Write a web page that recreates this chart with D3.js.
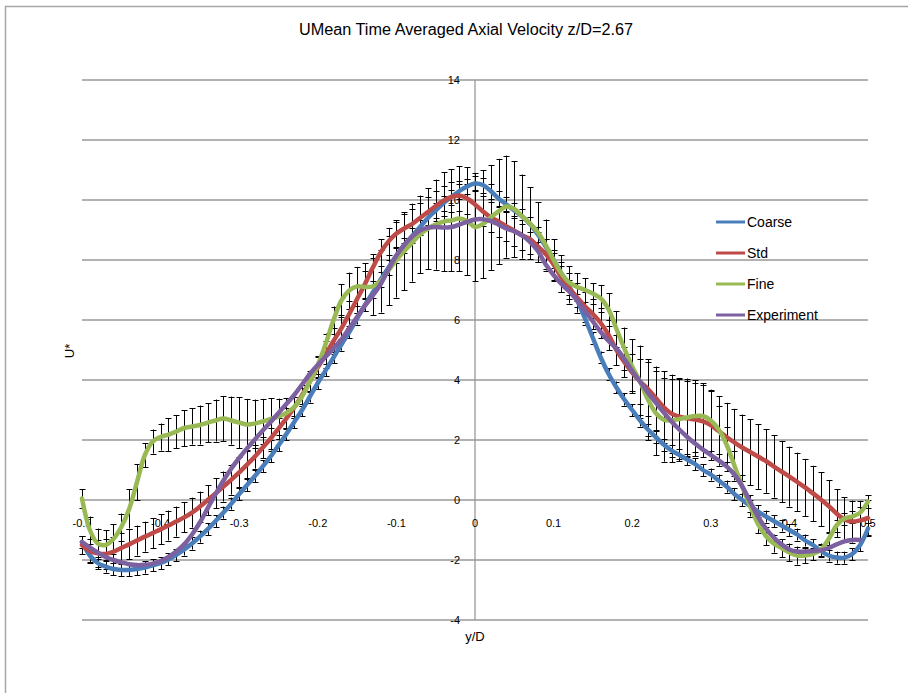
<!DOCTYPE html>
<html><head><meta charset="utf-8">
<script src="https://cdn.jsdelivr.net/npm/d3@7"></script>
<style>body{margin:0;background:#fff;}svg{display:block;font-family:"Liberation Sans",Arial,sans-serif;}</style>
</head><body><svg id="c" width="908" height="693"></svg>
<script>
const title = "UMean Time Averaged Axial Velocity z/D=2.67";
const xLabel = "y/D";
const yLabel = "U*";
const xTicks = [-0.5,-0.4,-0.3,-0.2,-0.1,0,0.1,0.2,0.3,0.4,0.5];
const xTickLabels = ["-0.5","-0.4","-0.3","-0.2","-0.1","0","0.1","0.2","0.3","0.4","0.5"];
const yTicks = [-4,-2,0,2,4,6,8,10,12,14];
const seriesNames = ["Coarse","Std","Fine","Experiment"];
const seriesColors = ["#4a7ebb","#be4b48","#98b954","#7d60a0"];

const yD = [-0.50,-0.49,-0.48,-0.47,-0.46,-0.45,-0.44,-0.43,-0.42,-0.41,
-0.40,-0.39,-0.38,-0.37,-0.36,-0.35,-0.34,-0.33,-0.32,-0.31,
-0.30,-0.29,-0.28,-0.27,-0.26,-0.25,-0.24,-0.23,-0.22,-0.21,
-0.20,-0.19,-0.18,-0.17,-0.16,-0.15,-0.14,-0.13,-0.12,-0.11,
-0.10,-0.09,-0.08,-0.07,-0.06,-0.05,-0.04,-0.03,-0.02,-0.01,
0,0.01,0.02,0.03,0.04,0.05,0.06,0.07,0.08,0.09,
0.10,0.11,0.12,0.13,0.14,0.15,0.16,0.17,0.18,0.19,
0.20,0.21,0.22,0.23,0.24,0.25,0.26,0.27,0.28,0.29,
0.30,0.31,0.32,0.33,0.34,0.35,0.36,0.37,0.38,0.39,
0.40,0.41,0.42,0.43,0.44,0.45,0.46,0.47,0.48,0.49,0.50];

const coarse = [-1.4,-1.85,-2.1,-2.22,-2.3,-2.33,-2.33,-2.3,-2.25,-2.18,
-2.1,-1.98,-1.83,-1.65,-1.45,-1.22,-0.97,-0.7,-0.42,-0.12,
0.2,0.5,0.8,1.12,1.45,1.82,2.2,2.6,3.0,3.45,
3.9,4.32,4.75,5.18,5.6,6.05,6.5,6.92,7.35,7.75,
8.15,8.5,8.8,9.1,9.4,9.65,9.9,10.1,10.3,10.45,
10.55,10.5,10.3,10.05,9.85,9.65,9.45,9.2,8.85,8.45,
8.0,7.55,7.1,6.65,6.05,5.4,4.75,4.2,3.75,3.35,
3.0,2.65,2.35,2.1,1.85,1.65,1.5,1.35,1.2,1.0,
0.85,0.65,0.45,0.2,0.0,-0.2,-0.38,-0.55,-0.7,-0.85,
-1.0,-1.15,-1.35,-1.5,-1.7,-1.85,-1.92,-1.92,-1.8,-1.5,-0.95];

const std = [-1.5,-1.7,-1.78,-1.8,-1.72,-1.6,-1.48,-1.35,-1.22,-1.1,
-0.98,-0.85,-0.72,-0.58,-0.42,-0.22,0.0,0.22,0.45,0.68,
0.92,1.18,1.45,1.75,2.05,2.38,2.72,3.08,3.5,3.95,
4.42,4.85,5.3,5.72,6.2,6.7,7.2,7.75,8.25,8.62,
8.88,9.05,9.2,9.4,9.6,9.8,9.98,10.1,10.15,10.05,
9.85,9.62,9.42,9.28,9.12,8.98,8.82,8.7,8.45,8.2,
7.85,7.42,7.05,6.75,6.45,6.2,5.9,5.5,5.0,4.6,
4.25,3.95,3.7,3.4,3.1,2.88,2.78,2.72,2.68,2.62,
2.5,2.3,2.1,1.92,1.75,1.6,1.45,1.3,1.12,0.95,
0.78,0.6,0.42,0.22,0.02,-0.2,-0.45,-0.65,-0.72,-0.68,-0.6];

const fine = [0.05,-1.0,-1.45,-1.5,-1.3,-0.9,-0.3,0.6,1.5,1.95,
2.1,2.18,2.28,2.4,2.45,2.5,2.58,2.65,2.72,2.65,
2.58,2.52,2.55,2.62,2.7,2.78,2.9,3.1,3.45,3.95,
4.5,5.2,6.0,6.65,6.98,7.12,7.1,7.12,7.3,7.65,
8.0,8.3,8.58,8.85,9.05,9.18,9.28,9.32,9.38,9.3,
9.1,9.2,9.42,9.62,9.78,9.7,9.45,9.22,8.92,8.5,
8.0,7.55,7.25,7.1,7.0,6.88,6.72,6.35,5.7,5.05,
4.45,3.95,3.35,2.9,2.68,2.65,2.7,2.75,2.8,2.8,
2.65,2.35,1.85,1.15,0.45,-0.2,-0.8,-1.2,-1.45,-1.6,
-1.75,-1.85,-1.85,-1.8,-1.65,-1.3,-0.85,-0.62,-0.55,-0.42,-0.05];

const experiment = [-1.4,-1.58,-1.75,-1.9,-2.0,-2.08,-2.14,-2.17,-2.16,-2.12,
-2.04,-1.9,-1.72,-1.48,-1.15,-0.75,-0.27,0.2,0.65,1.05,
1.4,1.72,2.02,2.32,2.6,2.9,3.2,3.5,3.85,4.2,
4.5,4.78,5.05,5.35,5.72,6.1,6.48,6.82,7.2,7.7,
8.15,8.5,8.78,8.98,9.08,9.1,9.08,9.1,9.18,9.27,
9.35,9.36,9.3,9.18,9.05,8.95,8.82,8.6,8.3,7.85,
7.5,7.2,6.95,6.65,6.3,5.95,5.6,5.3,5.05,4.7,
4.3,3.95,3.58,3.25,2.92,2.62,2.35,2.1,1.88,1.68,
1.5,1.32,1.12,0.85,0.45,-0.05,-0.55,-0.95,-1.25,-1.48,
-1.65,-1.72,-1.72,-1.7,-1.68,-1.6,-1.48,-1.38,-1.33,-1.33,null];

// error bar half-widths (+/-)
const coarseErr = [0.2,0.2,0.2,0.2,0.2,0.2,0.2,0.2,0.2,0.2,
0.2,0.2,0.2,0.2,0.2,0.2,0.2,0.2,0.2,0.2,
0.2,0.2,0.2,0.2,0.2,0.2,0.2,0.2,0.2,0.2,
0.2,0.2,0.2,0.2,0.2,0.2,0.2,0.2,0.25,0.25,
0.25,0.25,0.25,0.25,0.25,0.25,0.25,0.25,0.25,0.25,
0.25,0.25,0.25,0.25,0.25,0.25,0.25,0.25,0.25,0.25,
0.25,0.25,0.25,0.2,0.2,0.2,0.2,0.2,0.2,0.2,
0.2,0.2,0.2,0.2,0.2,0.2,0.2,0.2,0.2,0.2,
0.2,0.2,0.2,0.2,0.2,0.2,0.2,0.2,0.2,0.2,
0.2,0.2,0.2,0.2,0.2,0.2,0.2,0.2,0.2,0.2,0.2];

const stdErr = [0.3,0.4,0.45,0.5,0.5,0.5,0.5,0.5,0.5,0.5,
0.5,0.5,0.5,0.5,0.5,0.5,0.5,0.5,0.5,0.5,
0.5,0.45,0.4,0.35,0.35,0.35,0.35,0.35,0.35,0.35,
0.35,0.45,0.45,0.45,0.45,0.45,0.45,0.45,0.45,0.45,
0.45,0.5,0.5,0.5,0.5,0.5,0.5,0.5,0.5,0.5,
0.5,0.5,0.5,0.5,0.5,0.5,0.5,0.5,0.5,0.5,
0.5,0.5,0.5,0.5,0.5,0.5,0.5,0.5,0.5,0.5,
0.6,0.75,0.9,1.05,1.2,1.3,1.28,1.25,1.22,1.2,
1.18,1.16,1.14,1.12,1.1,1.1,1.08,1.06,1.04,1.02,
1.0,0.98,0.95,0.92,0.9,0.86,0.8,0.75,0.7,0.65,0.6];

const fineErr = [0.3,0.45,0.5,0.5,0.5,0.45,0.65,0.6,0.4,0.4,
0.45,0.55,0.55,0.6,0.6,0.65,0.65,0.7,0.75,0.8,
0.85,0.85,0.8,0.75,0.7,0.6,0.5,0.35,0.3,0.3,
0.3,0.35,0.45,0.55,0.6,0.65,0.8,0.95,1.05,1.15,
1.25,1.3,1.3,1.3,1.35,1.5,1.65,1.7,1.75,1.8,
1.8,1.8,1.75,1.75,1.7,1.6,1.4,1.2,1.0,0.85,
0.7,0.6,0.55,0.45,0.4,0.35,0.45,0.55,0.6,0.7,
0.9,1.2,1.35,1.4,1.4,1.4,1.35,1.3,1.2,1.1,
1.0,0.8,0.6,0.5,0.4,0.35,0.3,0.3,0.3,0.3,
0.3,0.3,0.25,0.2,0.2,0.2,0.2,0.2,0.2,0.2,0.2];

const seriesValues = [coarse, std, fine, experiment];
const seriesErrors = [coarseErr, stdErr, fineErr, null];

const svg = d3.select("#c");
const x = d3.scaleLinear().domain([-0.5, 0.5]).range([82, 868]);
const y = d3.scaleLinear().domain([-4, 14]).range([620, 80]);

// outer chart border
svg.append("rect").attr("x", 5.5).attr("y", 6.5).attr("width", 940).attr("height", 720)
  .attr("fill", "none").attr("stroke", "#a6a6a6").attr("stroke-width", 1.5);

// gridlines
svg.append("g").selectAll("line").data(yTicks).join("line")
  .attr("x1", x(-0.5)).attr("x2", x(0.5))
  .attr("y1", d => y(d)).attr("y2", d => y(d))
  .attr("stroke", "#999").attr("stroke-width", 1.3);

// vertical axis at y/D = 0
svg.append("line").attr("x1", x(0)).attr("x2", x(0)).attr("y1", y(14)).attr("y2", y(-4))
  .attr("stroke", "#999").attr("stroke-width", 1.3);

// y tick labels
svg.append("g").selectAll("text").data(yTicks).join("text")
  .attr("x", x(0) - 15).attr("y", d => y(d)).attr("dy", "0.35em")
  .attr("text-anchor", "end").attr("font-size", 11).attr("fill", "#000")
  .text(d => d);

// x tick labels
svg.append("g").selectAll("text").data(xTicks).join("text")
  .attr("x", d => x(d)).attr("y", y(0) + 27)
  .attr("text-anchor", "middle").attr("font-size", 11).attr("fill", "#000")
  .text((d, i) => xTickLabels[i]);

// error bars
const eg = svg.append("g").attr("stroke", "#000").attr("stroke-width", 1);
seriesValues.forEach((vals, si) => {
  const err = seriesErrors[si];
  if (!err) return;
  yD.forEach((xv, i) => {
    const v = vals[i], e = err[i];
    if (v == null || !e) return;
    const px = Math.round(x(xv)) + 0.5;
    const y1 = y(v + e), y2 = y(v - e);
    eg.append("line").attr("x1", px).attr("x2", px).attr("y1", y1).attr("y2", y2);
    eg.append("line").attr("x1", px - 3).attr("x2", px + 3).attr("y1", Math.round(y1) + 0.5).attr("y2", Math.round(y1) + 0.5);
    eg.append("line").attr("x1", px - 3).attr("x2", px + 3).attr("y1", Math.round(y2) + 0.5).attr("y2", Math.round(y2) + 0.5);
  });
});

// series lines
const line = d3.line().defined(d => d[1] != null)
  .x(d => x(d[0])).y(d => y(d[1])).curve(d3.curveCatmullRom.alpha(0.5));
seriesValues.forEach((vals, si) => {
  svg.append("path").datum(yD.map((xv, i) => [xv, vals[i]]))
    .attr("d", line).attr("fill", "none")
    .attr("stroke", seriesColors[si]).attr("stroke-width", 4.5)
    .attr("stroke-linejoin", "round").attr("stroke-linecap", "round");
});

// legend
const lg = svg.append("g");
seriesNames.forEach((n, i) => {
  const ly = 222 + i * 31;
  lg.append("line").attr("x1", 716).attr("x2", 745).attr("y1", ly).attr("y2", ly)
    .attr("stroke", seriesColors[i]).attr("stroke-width", 3);
  lg.append("text").attr("x", 747).attr("y", ly).attr("dy", "0.35em")
    .attr("font-size", 14).attr("fill", "#000").text(n);
});

// titles
svg.append("text").attr("x", 466).attr("y", 35).attr("text-anchor", "middle")
  .attr("font-size", 16).attr("textLength", 334).attr("lengthAdjust", "spacingAndGlyphs")
  .attr("fill", "#000").text(title);
svg.append("text").attr("x", x(0)).attr("y", 641).attr("text-anchor", "middle")
  .attr("font-size", 13).attr("fill", "#000").text(xLabel);
svg.append("text").attr("transform", "translate(74,351) rotate(-90)")
  .attr("text-anchor", "middle").attr("font-size", 13).attr("fill", "#000").text(yLabel);
</script></body></html>
